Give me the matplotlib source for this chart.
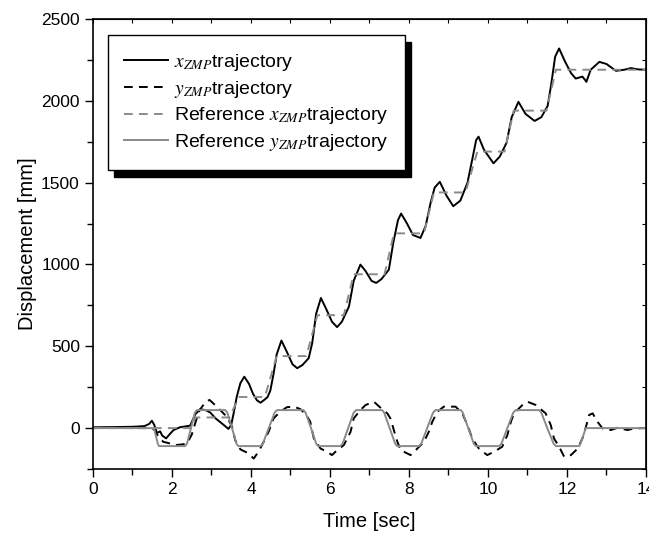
import numpy as np
import matplotlib
matplotlib.use("Agg")
import matplotlib.pyplot as plt
from matplotlib.ticker import MultipleLocator

plt.rcParams['font.family'] = ['Liberation Sans', 'DejaVu Sans']
plt.rcParams['mathtext.fontset'] = 'stix'

# measured x_ZMP (black solid)
x_t = [0, 0.5, 1.0, 1.3, 1.42, 1.49, 1.55, 1.62, 1.7, 1.75, 1.85, 1.95, 2.04, 2.2, 2.38,
       2.46, 2.59, 2.71, 2.85, 2.97, 3.1, 3.26, 3.43, 3.5, 3.56, 3.64, 3.73, 3.83, 3.95,
       4.05, 4.15, 4.24, 4.35, 4.42, 4.49, 4.57, 4.65, 4.77, 4.9, 5.05, 5.17, 5.3, 5.46,
       5.55, 5.65, 5.77, 5.9, 6.05, 6.18, 6.3, 6.48, 6.6, 6.77, 6.9, 7.05, 7.17, 7.3,
       7.49, 7.6, 7.72, 7.8, 7.95, 8.1, 8.29, 8.42, 8.55, 8.65, 8.78, 8.95, 9.12, 9.3,
       9.48, 9.6, 9.7, 9.76, 9.9, 10.14, 10.3, 10.47, 10.6, 10.77, 10.95, 11.18, 11.35,
       11.51, 11.6, 11.7, 11.8, 11.95, 12.1, 12.22, 12.39, 12.45, 12.49, 12.6, 12.82,
       13.0, 13.24, 13.45, 13.62, 13.8, 14.0]
x_v = [5, 6, 8, 12, 25, 45, 20, -30, -20, -45, -63, -35, -12, 5, 12,
       15, 85, 115, 110, 95, 60, 29, -5, 20, 90, 192, 274, 314, 270,
       210, 170, 155, 175, 190, 230, 330, 450, 535, 470, 390, 366, 385, 427,
       520, 700, 795, 730, 650, 617, 650, 743, 900, 999, 960, 900, 887, 910,
       968, 1130, 1270, 1311, 1250, 1180, 1162, 1234, 1380, 1470, 1505, 1420, 1356, 1390,
       1499, 1640, 1760, 1781, 1700, 1618, 1660, 1744, 1900, 1994, 1920, 1877, 1900,
       1969, 2100, 2270, 2320, 2240, 2170, 2136, 2148, 2130, 2116, 2190, 2238,
       2225, 2183, 2190, 2200, 2192, 2190]

# measured y_ZMP (black dashed)
y_t = [0, 0.5, 1.0, 1.45, 1.55, 1.65, 1.78, 1.95, 2.08, 2.25, 2.38, 2.5, 2.6, 2.7, 2.85,
       2.95, 3.05, 3.2, 3.39, 3.52, 3.6, 3.73, 3.9, 4.07, 4.2, 4.32, 4.45, 4.57, 4.74,
       4.91, 5.1, 5.25, 5.4, 5.5, 5.59, 5.76, 5.93, 6.05, 6.18, 6.35, 6.52, 6.6, 6.77,
       6.9, 7.11, 7.3, 7.45, 7.53, 7.62, 7.7, 7.79, 8.04, 8.17, 8.38, 8.5, 8.59, 8.72,
       8.88, 9.18, 9.35, 9.48, 9.6, 9.77, 9.98, 10.15, 10.36, 10.49, 10.58, 10.66, 10.87,
       11.0, 11.21, 11.46, 11.59, 11.67, 11.8, 11.93, 12.1, 12.27, 12.39, 12.48, 12.56,
       12.65, 12.77, 12.9, 13.11, 13.28, 13.53, 13.7, 14.0]
y_v = [0, 2, 0, 0, -10, -50, -84, -94, -104, -100, -94, -40, 40, 110, 160,
       172, 150, 115, 69, 8, -74, -130, -150, -186, -140, -84, -20, 59, 100,
       128, 130, 116, 80, 39, -63, -125, -145, -165, -135, -104, -23, 59, 110,
       141, 161, 120, 90, 59, -15, -80, -135, -165, -135, -84, -23, 39, 100,
       131, 131, 90, 18, -63, -125, -165, -145, -114, -43, 39, 90, 141,
       161, 141, 90, 18, -63, -114, -176, -165, -125, -63, 8, 80,
       90, 39, -2, -12, 2, -12, -2, 0]

# reference x_ZMP (gray dashed staircase)
rx_t = [0, 2.45, 2.6, 3.45, 3.7, 4.35, 4.65, 5.4, 5.68, 6.35, 6.6, 7.38, 7.62, 8.38,
        8.63, 9.43, 9.73, 10.42, 10.65, 11.48, 11.72, 14.0]
rx_v = [0, 0, 65, 65, 190, 190, 440, 440, 690, 690, 940, 940, 1190, 1190,
        1440, 1440, 1690, 1690, 1940, 1940, 2190, 2190]

# reference y_ZMP (gray solid)
ry_t = [0, 1.53, 1.56, 1.64, 1.67,
        2.33, 2.38, 2.48, 2.58, 2.63,
        3.35, 3.40, 3.52, 3.63, 3.68,
        4.24, 4.30, 4.45, 4.60, 4.66,
        5.33, 5.38, 5.52, 5.65, 5.70,
        6.26, 6.32, 6.46, 6.60, 6.66,
        7.32, 7.37, 7.51, 7.65, 7.70,
        8.25, 8.31, 8.46, 8.61, 8.67,
        9.31, 9.36, 9.50, 9.64, 9.69,
        10.28, 10.34, 10.49, 10.64, 10.70,
        11.29, 11.35, 11.50, 11.66, 11.72,
        12.31, 12.34, 12.40, 12.46, 12.48, 14.0]
ry_v = [0, 0, -15, -95, -110,
        -110, -95, 0, 95, 110,
        110, 95, 0, -95, -110,
        -110, -95, 0, 95, 110,
        110, 95, 0, -95, -110,
        -110, -95, 0, 95, 110,
        110, 95, 0, -95, -110,
        -110, -95, 0, 95, 110,
        110, 95, 0, -95, -110,
        -110, -95, 0, 95, 110,
        110, 95, 0, -95, -110,
        -110, -95, -55, -10, 0, 0]

gray = '#8a8a8a'

fig = plt.figure(figsize=(6.49, 5.37), dpi=100)
ax = fig.add_axes([93/649, 68/537, 553/649, 450/537])

ax.plot(x_t, x_v, color='black', lw=1.4, label=r'$x_{ZMP}$trajectory')
ax.plot(y_t, y_v, color='black', lw=1.4, dashes=(4.5, 3.2), label=r'$y_{ZMP}$trajectory')
ax.plot(rx_t, rx_v, color=gray, lw=1.4, dashes=(4.5, 3.2), label=r'Reference $x_{ZMP}$trajectory')
ax.plot(ry_t, ry_v, color=gray, lw=1.4, label=r'Reference $y_{ZMP}$trajectory')

ax.set_xlim(0, 14)
ax.set_ylim(-250, 2500)
ax.xaxis.set_major_locator(MultipleLocator(2))
ax.xaxis.set_minor_locator(MultipleLocator(1))
ax.yaxis.set_major_locator(MultipleLocator(500))
ax.yaxis.set_minor_locator(MultipleLocator(250))
ax.tick_params(which='both', labelsize=12.5, width=1, direction='out', top=False, right=False)
ax.tick_params(which='major', length=6)
ax.tick_params(which='minor', length=4)
for s in ax.spines.values():
    s.set_linewidth(1.2)

# inward ticks on top and right
sec_x = ax.secondary_xaxis('top')
sec_x.xaxis.set_major_locator(MultipleLocator(1))
sec_x.tick_params(direction='in', length=3, labeltop=False)
sec_y = ax.secondary_yaxis('right')
sec_y.yaxis.set_major_locator(MultipleLocator(250))
sec_y.tick_params(direction='in', length=3, labelright=False)

ax.set_xlabel('Time [sec]', fontsize=14.5, labelpad=11)
ax.set_ylabel('Displacement [mm]', fontsize=14.5, labelpad=3)

leg = ax.legend(loc='upper left', bbox_to_anchor=(0.027, 0.964), borderaxespad=0,
                fontsize=14, fancybox=False, frameon=True, handlelength=2.25,
                handletextpad=0.3, labelspacing=0.3, borderpad=0.85,
                shadow={'color': 'black', 'alpha': 1, 'ox': 4.5, 'oy': -5})
leg.get_frame().set_edgecolor('black')
leg.get_frame().set_linewidth(1.0)
leg.get_frame().set_alpha(1)

fig.savefig('out.png', dpi=100)
